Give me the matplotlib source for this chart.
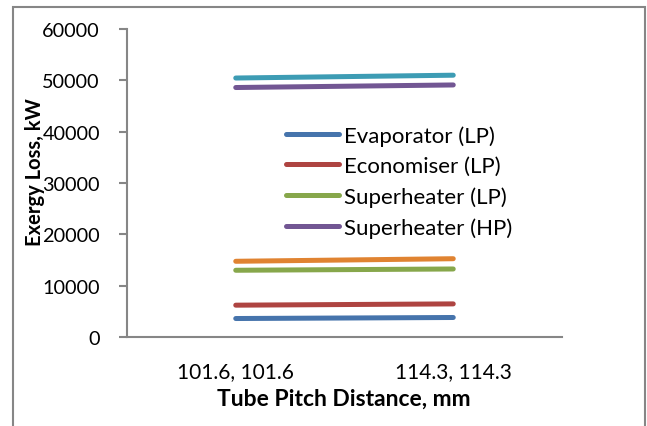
import matplotlib.pyplot as plt
from matplotlib.patches import Rectangle
from matplotlib.lines import Line2D

plt.rcParams['font.family'] = ['Lato', 'DejaVu Sans']

categories = ['101.6, 101.6', '114.3, 114.3']
evaporator_lp = [3600, 3800]
economiser_lp = [6200, 6450]
superheater_lp = [13000, 13250]
economiser_hp = [14750, 15250]
superheater_hp = [48600, 49100]
evaporator_hp = [50450, 51000]

series = [
    ('Evaporator (LP)', evaporator_lp, '#4674AC'),
    ('Economiser (LP)', economiser_lp, '#AE4441'),
    ('Superheater (LP)', superheater_lp, '#87A74B'),
    ('Superheater (HP)', superheater_hp, '#725693'),
    ('Economiser (HP)', economiser_hp, '#E08331'),
    ('Evaporator (HP)', evaporator_hp, '#3D9CB4'),
]

W, H = 647, 427
fig = plt.figure(figsize=(W / 100, H / 100), dpi=100)
ax = fig.add_axes([127 / W, (H - 338) / H, 435 / W, 308 / H])

for name, vals, col in series:
    ax.plot(categories, vals, color=col, lw=3.6, solid_capstyle='round', label=name)

ax.set_xlim(-0.5, 1.5)
ax.set_ylim(0, 60000)
ax.set_yticks(range(0, 60001, 10000))

grey = '#868686'
for s in ['top', 'right']:
    ax.spines[s].set_visible(False)
for s in ['left', 'bottom']:
    ax.spines[s].set_color(grey)
    ax.spines[s].set_linewidth(1.5)
ax.tick_params(axis='y', direction='out', length=6, width=1.5, color=grey, pad=13.5, labelsize=14.3)
ax.tick_params(axis='x', length=0, pad=17, labelsize=15)

# legend shows only the first four entries (as in the original)
handles = [Line2D([], [], color=c, lw=3.6, solid_capstyle='round') for _, _, c in series[:4]]
labels = [n for n, _, _ in series[:4]]
fig.legend(handles, labels, loc='upper left', bbox_to_anchor=(286 / W, 1 - 126 / H),
           frameon=False, fontsize=16, handlelength=2.4, handletextpad=0.22,
           labelspacing=0.47, borderpad=0, borderaxespad=0)

fig.text(35 / W, 1 - 172 / H, 'Exergy Loss, kW', rotation=90, ha='center', va='center',
         fontsize=14.5, fontweight='bold')
fig.text(344 / W, 1 - 399 / H, 'Tube Pitch Distance, mm', ha='center', va='center',
         fontsize=16.5, fontweight='bold')

# outer chart frame
fig.add_artist(Rectangle((13 / W, -0.1), (645 - 13) / W, 1 - 8 / H + 0.1,
                         transform=fig.transFigure, fill=False, edgecolor=grey, lw=1.5))

fig.savefig('out.png', dpi=100)
